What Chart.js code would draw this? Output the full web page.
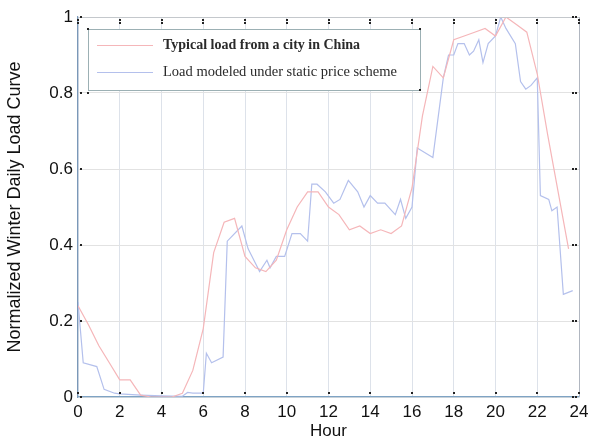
<!DOCTYPE html>
<html>
<head>
<meta charset="utf-8">
<script src="https://cdn.jsdelivr.net/npm/chart.js@4.4.1/dist/chart.umd.min.js"></script>
<style>
  html, body { margin: 0; padding: 0; background: #ffffff; }
  #wrap { width: 596px; height: 446px; position: relative; }
</style>
</head>
<body>
<div id="wrap"><canvas id="c" width="596" height="446"></canvas></div>
<script>
// ---- data ----
const xTickLabels = ["0","2","4","6","8","10","12","14","16","18","20","22","24"];
const yTickLabels = ["0","0.2","0.4","0.6","0.8","1"];

const typicalHours = [0,0.5,1,1.5,2,2.5,3,3.5,4,4.5,5,5.5,6,6.5,7,7.5,8,8.5,9,9.5,10,10.5,11,11.5,
                      12,12.5,13,13.5,14,14.5,15,15.5,16,16.5,17,17.5,18,18.5,19,19.5,20,20.5,21,21.5,22,22.5,23,23.5];
const typicalLoad  = [0.24,0.19,0.135,0.09,0.045,0.045,0.005,0.0,0.0,0.0,0.01,0.07,0.18,0.38,0.46,0.47,0.37,0.34,0.33,0.36,0.44,0.50,0.54,0.54,
                      0.50,0.48,0.44,0.45,0.43,0.44,0.43,0.45,0.55,0.74,0.87,0.84,0.94,0.95,0.96,0.97,0.95,1.0,0.98,0.96,0.85,0.69,0.54,0.39];

const staticHours = [0,0.25,0.9,1.25,1.75,2,3,4,5,5.25,5.5,6,6.15,6.4,6.95,7.15,7.85,8.15,8.7,9.05,9.2,9.5,9.9,10.25,10.65,11.0,11.2,11.45,11.85,
                     12.25,12.55,12.95,13.4,13.7,14.0,14.35,14.7,15.2,15.45,15.7,16.0,16.25,17.0,17.5,17.75,18.0,18.2,18.5,18.75,18.95,19.2,19.4,19.65,
                     20.0,20.25,20.5,20.95,21.2,21.45,21.7,22.0,22.15,22.55,22.7,22.95,23.25,23.7];
const staticLoad  = [0.25,0.09,0.08,0.02,0.01,0.008,0.005,0.003,0.002,0.012,0.01,0.01,0.115,0.09,0.105,0.41,0.45,0.39,0.33,0.36,0.34,0.37,0.37,0.43,0.43,0.41,0.56,0.56,0.54,
                     0.51,0.52,0.57,0.54,0.50,0.53,0.51,0.51,0.48,0.52,0.47,0.50,0.655,0.63,0.84,0.90,0.90,0.93,0.93,0.90,0.91,0.94,0.88,0.93,
                     0.95,1.0,0.97,0.93,0.83,0.81,0.82,0.84,0.53,0.52,0.49,0.50,0.27,0.28];

const seriesNames = ["Typical load from a city in China", "Load modeled under static price scheme"];

const redColor = "#f5b6b9";
const blueColor = "#b4c0ec";

const typicalPts = typicalHours.map((h, i) => ({ x: h, y: typicalLoad[i] }));
const staticPts = staticHours.map((h, i) => ({ x: h, y: staticLoad[i] }));

// plugin: frame, tick marks, legend box
const decor = {
  id: 'decor',
  afterDraw(chart) {
    const ctx = chart.ctx;
    const a = chart.chartArea;
    const xs = chart.scales.x, ys = chart.scales.y;
    ctx.save();
    ctx.strokeStyle = '#c4c8cc';
    ctx.lineWidth = 1;
    ctx.beginPath();
    ctx.moveTo(a.left, a.top + 0.5); ctx.lineTo(a.right, a.top + 0.5);
    ctx.stroke();
    ctx.strokeStyle = '#b0b6c0';
    ctx.beginPath();
    ctx.moveTo(a.right + 0.5, a.top); ctx.lineTo(a.right + 0.5, a.bottom);
    ctx.stroke();
    ctx.fillStyle = '#222';
    for (let v = 0; v <= 24; v += 2) {
      const px = Math.round(xs.getPixelForValue(v));
      ctx.fillRect(px - 1, a.top + 2, 2, 2);
      ctx.fillRect(px - 1, a.top + 5, 2, 2);
      ctx.fillRect(px - 1, a.bottom - 5, 2, 2);
    }
    for (let v = 0; v <= 1.0001; v += 0.2) {
      const py = Math.round(ys.getPixelForValue(v));
      ctx.fillRect(a.left + 2, py - 1, 2, 2);
      ctx.fillRect(a.right - 7, py - 1, 2, 2);
      ctx.fillRect(a.right - 4, py - 1, 2, 2);
    }
    const bx = 88, by = 29, bw = 332, bh = 61;
    ctx.fillStyle = '#ffffff';
    ctx.fillRect(bx, by, bw, bh);
    ctx.strokeStyle = '#9cb0b4';
    ctx.lineWidth = 1;
    ctx.strokeRect(bx + 0.5, by + 0.5, bw, bh);
    ctx.fillStyle = '#222';
    ctx.fillRect(bx - 1, by - 1, 2, 2);
    ctx.fillRect(bx + bw - 1, by - 1, 2, 2);
    ctx.fillRect(bx + bw - 1, by + bh - 1, 2, 2);
    ctx.fillRect(bx - 1, by + bh + 2, 2, 2);
    const rows = [[seriesNames[0], redColor, 45, 'bold 14px "Liberation Serif", "DejaVu Serif", serif'],
                  [seriesNames[1], blueColor, 72, '14.5px "Liberation Serif", "DejaVu Serif", serif']];
    rows.forEach(r => {
      ctx.strokeStyle = r[1];
      ctx.lineWidth = 1.2;
      ctx.beginPath();
      ctx.moveTo(97, r[2] + 0.5); ctx.lineTo(153, r[2] + 0.5);
      ctx.stroke();
      ctx.fillStyle = '#2a2a2a';
      ctx.font = r[3];
      ctx.textBaseline = 'middle';
      ctx.textAlign = 'left';
      ctx.fillText(r[0], 163, r[2]);
    });
    ctx.restore();
  }
};

new Chart(document.getElementById('c'), {
  type: 'line',
  data: {
    datasets: [
      { label: seriesNames[0], data: typicalPts, borderColor: redColor, borderWidth: 1.2, pointRadius: 0, tension: 0, fill: false },
      { label: seriesNames[1], data: staticPts, borderColor: blueColor, borderWidth: 1.2, pointRadius: 0, tension: 0, fill: false }
    ]
  },
  options: {
    responsive: false,
    animation: false,
    layout: { padding: { left: 0, right: 17, top: 17, bottom: 0 } },
    plugins: { legend: { display: false }, tooltip: { enabled: false } },
    scales: {
      x: {
        type: 'linear', min: 0, max: 24,
        afterBuildTicks: s => { s.ticks = xTickLabels.map(t => ({ value: Number(t) })); },
        afterFit: s => { s.height = 49; },
        ticks: { callback: (v) => xTickLabels.find(t => Number(t) === v), color: '#111', padding: 5, maxRotation: 0, autoSkip: false,
                 font: { family: '"Liberation Sans", Arial, sans-serif', size: 17 } },
        grid: { color: '#dde2ea', drawTicks: false },
        border: { color: '#7ea3c4', width: 1.2 },
        title: { display: true, text: 'Hour', color: '#111', padding: { top: 0, bottom: 4 },
                 font: { family: '"Liberation Sans", Arial, sans-serif', size: 17 } }
      },
      y: {
        min: 0, max: 1,
        afterBuildTicks: s => { s.ticks = yTickLabels.map(t => ({ value: Number(t) })); },
        afterFit: s => { s.width = 78; },
        ticks: { callback: (v) => yTickLabels.find(t => Math.abs(Number(t) - v) < 1e-9), color: '#111', padding: 5, autoSkip: false,
                 font: { family: '"Liberation Sans", Arial, sans-serif', size: 17 } },
        grid: { color: '#e2e2e2', drawTicks: false },
        border: { color: '#7a98b8', width: 1.2 },
        title: { display: true, text: 'Normalized Winter Daily Load Curve', color: '#111', padding: { top: 4, bottom: 0 },
                 font: { family: '"Liberation Sans", Arial, sans-serif', size: 18 } }
      }
    }
  },
  plugins: [decor]
});
</script>
</body>
</html>
